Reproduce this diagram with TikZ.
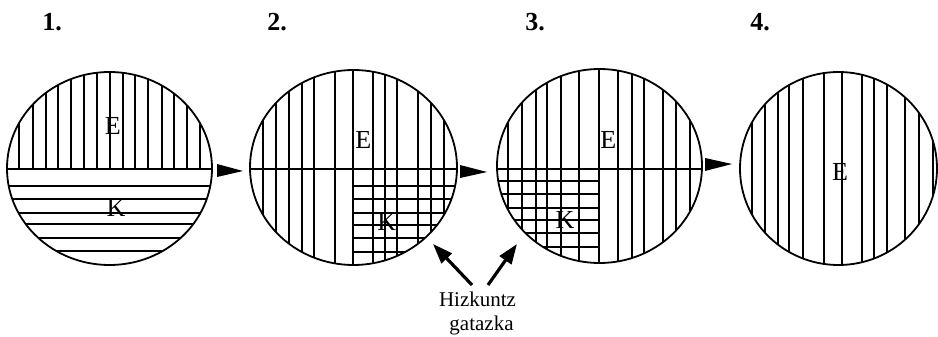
\documentclass[tikz,border=0pt]{standalone}
\usepackage{fontspec}
\setmainfont{Liberation Serif}
\usetikzlibrary{arrows.meta,shapes.geometric}
\begin{document}
\begin{tikzpicture}[x=1pt,y=-1pt,
  rim/.style={draw,ellipse,line width=1.8pt,inner sep=0pt,outer sep=0pt},
  hatch/.style={line width=1.8pt},
  lbl/.style={font=\fontsize{26}{26}\selectfont,inner sep=0pt},
  num/.style={font=\bfseries\fontsize{26}{26}\selectfont,inner sep=0pt},
  captext/.style={font=\fontsize{21}{24}\selectfont,inner sep=0pt,anchor=base},
  dart/.style={fill=black},
  pointer/.style={line width=3.2pt,-{Triangle[length=20pt,width=14pt]}}]
\useasboundingbox (0,0) rectangle (938,337);

% ---------- circle 1
\coordinate (o1) at (109.5,168.5);
\begin{scope}
  \clip (o1) ellipse [x radius=102.5pt, y radius=96.5pt];
  \foreach \x in {19,33,46,58,71,84,97,110,123,135,148,162,174,187,200}
    \draw[hatch] (\x,169) -- (\x,60);
  \foreach \y in {169,186,199,213,224,238,251}
    \draw[hatch] (0,\y) -- (220,\y);
\end{scope}
\node[rim,minimum width=205pt,minimum height=193pt] (c1) at (o1) {};
\node[lbl] (e1) at (112.7,126) {E};
\node[lbl] (k1) at (116,208) {K};

% ---------- circle 2
\coordinate (o2) at (353.5,167.5);
\begin{scope}
  \clip (o2) ellipse [x radius=103.5pt, y radius=97.5pt];
  \foreach \x in {263,276,289,302,314,335,353,373,385,397,418,431,444}
    \draw[hatch] (\x,60) -- (\x,275);
  \draw[hatch] (240,169) -- (470,169);
  \foreach \y in {186,199,213,225,238,252}
    \draw[hatch] (353,\y) -- (470,\y);
\end{scope}
\node[rim,minimum width=207pt,minimum height=195pt] (c2) at (o2) {};
\node[lbl] (e2) at (363.3,140) {E};
\node[lbl] (k2) at (386.7,221.7) {K};

% ---------- circle 3
\coordinate (o3) at (599.5,166);
\begin{scope}
  \clip (o3) ellipse [x radius=102.5pt, y radius=97pt];
  \foreach \x in {508,522,536,547,561,579,599,618,632,644,663,676,690}
    \draw[hatch] (\x,60) -- (\x,275);
  \draw[hatch] (490,169) -- (710,169);
  \foreach \y in {181,194,208,220,233,247}
    \draw[hatch] (490,\y) -- (599,\y);
\end{scope}
\node[rim,minimum width=205pt,minimum height=194pt] (c3) at (o3) {};
\node[lbl] (e3) at (608.3,140) {E};
\node[lbl] (k3) at (565,220) {K};

% ---------- circle 4
\coordinate (o4) at (838.5,168.5);
\begin{scope}
  \clip (o4) ellipse [x radius=98.5pt, y radius=96.5pt];
  \foreach \x in {752,765,778,789,803,824,842,862,874,887,905,919,933}
    \draw[hatch] (\x,60) -- (\x,275);
\end{scope}
\node[rim,minimum width=197pt,minimum height=193pt] (c4) at (o4) {};
\node[lbl] (e4) at (840,171.7) {E};

% ---------- darts between circles
\coordinate (a1t) at (217,164); \coordinate (a1p) at (243,171); \coordinate (a1b) at (217,177);
\fill[dart] (a1t) -- (a1p) -- (a1b) -- cycle;
\coordinate (a2t) at (460,165); \coordinate (a2p) at (487,172); \coordinate (a2b) at (460,178);
\fill[dart] (a2t) -- (a2p) -- (a2b) -- cycle;
\coordinate (a3t) at (705,158); \coordinate (a3p) at (732,164); \coordinate (a3b) at (705,171);
\fill[dart] (a3t) -- (a3p) -- (a3b) -- cycle;

% ---------- step numbers
\node[num] (n1) at (52,22) {1.};
\node[num] (n2) at (277,22) {2.};
\node[num] (n3) at (535,22) {3.};
\node[num] (n4) at (760,22) {4.};

% ---------- caption and pointers
\node[captext] (hz1) at (477.5,306) {Hizkuntz};
\node[captext] (hz2) at (481.5,330) {gatazka};
\coordinate (pl0) at (472,285); \coordinate (pl1) at (433,244);
\coordinate (pr0) at (488,285); \coordinate (pr1) at (517,244);
\draw[pointer] (pl0) -- (pl1);
\draw[pointer] (pr0) -- (pr1);
\end{tikzpicture}
\end{document}
